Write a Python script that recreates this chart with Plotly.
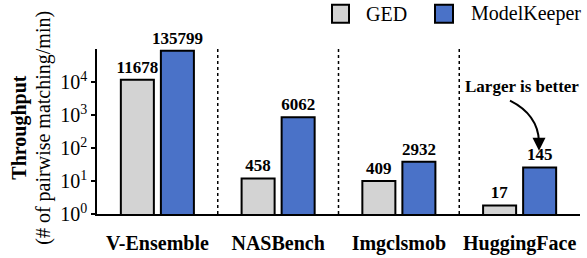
import plotly.graph_objects as go

# ---- data ----
categories = ["V-Ensemble", "NASBench", "Imgclsmob", "HuggingFace"]
ged_heights = [11678, 12, 10, 1.82]
mk_heights = [88000, 850, 38.5, 25.8]
ged_labels = ["11678", "458", "409", "17"]
mk_labels = ["135799", "6062", "2932", "145"]
series_names = ["GED", "ModelKeeper"]
ytick_vals = [1, 10, 100, 1000, 10000]
ytick_text = ["10<sup>0</sup>", "10<sup>1</sup>", "10<sup>2</sup>", "10<sup>3</sup>", "10<sup>4</sup>"]
ytitle_lines = ["<b>Throughput</b>", "(# of pairwise matching/min)"]

GRAY = "#d3d3d3"
BLUE = "#4a72c8"
FONT = "'Liberation Serif', 'Times New Roman', Times, serif"

fig = go.Figure()
for name, h, lab, col in [(series_names[0], ged_heights, ged_labels, GRAY),
                          (series_names[1], mk_heights, mk_labels, BLUE)]:
    fig.add_trace(go.Bar(
        x=categories, y=h, name=name, text=lab,
        texttemplate="<b>%{text}</b>", textposition="outside",
        textfont=dict(family=FONT, size=17, color="black"),
        constraintext="none", cliponaxis=False,
        marker=dict(color=col, line=dict(color="black", width=2)),
        showlegend=False,
    ))

# dotted separators between groups
for xs in [0.5, 1.5, 2.5]:
    fig.add_shape(type="line", xref="x", yref="paper", x0=xs, x1=xs, y0=0, y1=1,
                  line=dict(color="black", width=1.5, dash="dot"))

# pixel -> paper helpers (plot area: x 97..580, y 49.3..214.3)
def px2x(px):
    return (px - 97) / 483.0

def py2y(py):
    return (214.3 - py) / 165.0

# manual legend
for (bx0, bx1, tx, name, col) in [(332, 349, 364, series_names[0], GRAY),
                                   (435, 453, 469, series_names[1], BLUE)]:
    fig.add_shape(type="rect", xref="paper", yref="paper",
                  x0=px2x(bx0), x1=px2x(bx1), y0=py2y(23), y1=py2y(5),
                  fillcolor=col, line=dict(color="black", width=2))
    fig.add_annotation(xref="paper", yref="paper", x=px2x(tx), y=py2y(14),
                       text=name, showarrow=False, xanchor="left", yanchor="middle",
                       font=dict(family=FONT, size=20, color="black"))

# y axis title (two lines)
for line, cx in zip(ytitle_lines, [20, 44]):
    fig.add_annotation(xref="paper", yref="paper", x=px2x(cx), y=py2y(128),
                       text=line, showarrow=False, textangle=-90,
                       xanchor="center", yanchor="middle",
                       font=dict(family=FONT, size=20, color="black"))

# "Larger is better" with curved arrow
fig.add_annotation(xref="paper", yref="paper", x=px2x(522), y=py2y(87),
                   text="<b>Larger is better</b>", showarrow=False,
                   xanchor="center", yanchor="middle",
                   font=dict(family=FONT, size=17, color="black"))
fig.add_shape(type="path", xref="paper", yref="paper",
              path=f"M {px2x(510)},{py2y(101)} Q {px2x(538)},{py2y(115)} {px2x(539)},{py2y(142)}",
              line=dict(color="black", width=2))
fig.add_annotation(xref="paper", yref="paper", x=px2x(539), y=py2y(151),
                   ax=0, ay=-12, text="", showarrow=True,
                   arrowhead=2, arrowsize=1.3, arrowwidth=2, arrowcolor="black")

fig.update_layout(
    width=587, height=258,
    margin=dict(l=97, r=7, t=49, b=44, autoexpand=False),
    plot_bgcolor="white", paper_bgcolor="white",
    barmode="group", bargap=0.337, bargroupgap=0.175,
    font=dict(family=FONT, size=20, color="black"),
    xaxis=dict(showline=True, linecolor="black", linewidth=1.5, ticks="",
               tickfont=dict(family=FONT, size=20, color="black", weight="bold"),
               ticklabelstandoff=10, showgrid=False, zeroline=False,
               automargin=False, range=[-0.5, 3.5]),
    yaxis=dict(type="log", range=[0, 5], showline=True, linecolor="black",
               linewidth=1.5, ticks="outside", ticklen=4, tickwidth=1.5,
               tickcolor="black", tickvals=ytick_vals, ticktext=ytick_text,
               tickfont=dict(family=FONT, size=20, color="black"),
               showgrid=False, zeroline=False, automargin=False),
)

fig.write_html("out.html",
               config={"displayModeBar": False},
               post_script="document.body.style.margin='0';document.body.style.overflow='hidden';")
